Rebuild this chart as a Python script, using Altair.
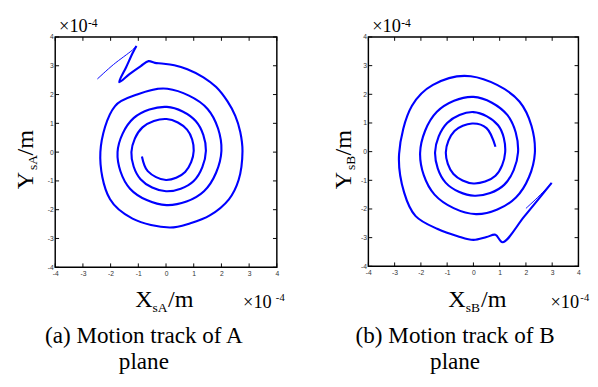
import altair as alt
import pandas as pd

# ---- data (units of 1e-4 m) ----
ax_thick = [-0.87,-0.66,0.0,0.69,1.0,0.76,0.02,-0.85,-1.25,-0.92,0.0,1.0,1.44,1.07,0.03,-1.17,-1.75,-1.3,0.02,1.37,2.0,1.5,0.05,-1.1,-1.84,-2.37,-2.02,-1.21,0.13,0.88,1.58,2.27,2.62,2.76,2.68,2.50,2.22,1.81,1.35,0.77,0.30,-0.16,-0.40,-0.63,-0.91,-1.32,-1.69,-1.44,-1.20,-1.07]
ay_thick = [-0.15,-0.66,-0.97,-0.69,0.05,0.78,1.15,0.86,0.0,-0.94,-1.36,-1.0,0.05,1.08,1.57,1.18,0.0,-1.27,-1.84,-1.36,0.05,1.5,2.2,1.98,1.6,0.0,-1.64,-2.31,-2.62,-2.47,-2.2,-1.64,-0.97,0.03,0.70,1.26,1.76,2.26,2.60,2.88,3.02,3.08,3.10,3.16,2.99,2.71,2.43,2.95,3.45,3.69]
ax_thin = [-1.07,-1.21,-1.90,-2.48]
ay_thin = [3.69,3.55,3.04,2.54]

bx_thick = [0.84,0.5,-0.05,-0.72,-1.05,-0.76,0.0,0.84,1.21,0.94,0.0,-1.0,-1.46,-1.06,0.04,1.17,1.70,1.29,0.0,-1.39,-2.03,-1.48,0.1,1.62,2.34,1.76,-0.1,-1.54,-2.34,-2.83,-2.64,-2.2,-1.36,-0.6,0.0,0.5,0.84,1.11,1.94,2.98]
by_thick = [0.17,0.82,0.98,0.72,-0.02,-0.78,-1.11,-0.84,-0.02,0.92,1.38,1.0,-0.02,-1.08,-1.54,-1.16,-0.02,1.28,1.91,1.39,-0.05,-1.5,-2.18,-1.6,-0.05,1.74,2.63,2.33,1.6,-0.08,-1.42,-2.25,-2.7,-2.95,-3.08,-2.98,-2.9,-3.16,-2.26,-1.09]
bx_thin = [2.98,2.5,2.0]
by_thin = [-1.09,-1.55,-1.98]

tick_vals = [-4,-3,-2,-1,0,1,2,3,4]

BLUE = "#0000ff"
SERIF = "Liberation Serif"
SANS = "Liberation Sans"


def panel(xs, ys, xt, yt, W, H, sub, cap1, cap2, ybx, bx10, bsup, capx):
    sc = alt.Scale(domain=[-4, 4], nice=False, zero=False)
    common = dict(values=tick_vals, ticks=False, domain=False, grid=False, title=None,
                  labelFont=SANS, labelFontSize=7, labelColor="#333", labelOverlap=False,
                  labelFlush=False, labelExpr="'' + datum.value")
    xax = alt.Axis(labelPadding=3, **common)
    yax = alt.Axis(labelPadding=2, **common)
    d1 = pd.DataFrame({"x": xs, "y": ys, "i": range(len(xs))})
    d2 = pd.DataFrame({"x": xt, "y": yt, "i": range(len(xt))})
    thick = alt.Chart(d1).mark_line(color=BLUE, strokeWidth=2.2, interpolate="catmull-rom").encode(
        x=alt.X("x:Q", scale=sc, axis=xax), y=alt.Y("y:Q", scale=sc, axis=yax), order="i:Q")
    thin = alt.Chart(d2).mark_line(color=BLUE, strokeWidth=1.0, interpolate="catmull-rom").encode(
        x=alt.X("x:Q", scale=sc, axis=xax), y=alt.Y("y:Q", scale=sc, axis=yax), order="i:Q")
    td = pd.DataFrame({"t": tick_vals})
    tb = alt.Chart(td).mark_rule(color="#000", strokeWidth=1).encode(
        x=alt.X("t:Q", scale=sc, axis=xax), y=alt.value(H), y2=alt.value(H - 4))
    tt = alt.Chart(td).mark_rule(color="#000", strokeWidth=1).encode(
        x=alt.X("t:Q", scale=sc, axis=xax), y=alt.value(0), y2=alt.value(4))
    tl = alt.Chart(td).mark_rule(color="#000", strokeWidth=1).encode(
        y=alt.Y("t:Q", scale=sc, axis=yax), x=alt.value(0), x2=alt.value(4))
    tr = alt.Chart(td).mark_rule(color="#000", strokeWidth=1).encode(
        y=alt.Y("t:Q", scale=sc, axis=yax), x=alt.value(W), x2=alt.value(W - 4))

    def txt(s, x, y, size, align="left", angle=0):
        kw = dict(text=s, font=SERIF, fontSize=size, align=align, baseline="alphabetic", color="#000")
        if angle:
            kw["angle"] = angle
        return alt.Chart(pd.DataFrame({"a": [0]})).mark_text(**kw).encode(x=alt.value(x), y=alt.value(y))

    texts = [
        txt("×10", 4, -5, 19), txt("-4", 34, -10, 12),
        txt("×10", bx10, 281, 19), txt("-4", bsup, 274, 11),
        txt("X", 83, 280, 25), txt(sub, 101, 285, 14), txt("/m", 117, 280, 25),
        txt("Y", ybx, 158, 25, angle=270), txt(sub, ybx + 4, 138, 14, angle=270), txt("/m", ybx, 123, 25, angle=270),
        txt(cap1, capx, 318, 24, align="center"), txt(cap2, capx, 345, 24, align="center"),
    ]
    return alt.layer(thick, thin, tb, tt, tl, tr, *texts).properties(width=W, height=H)


A = panel(ax_thick, ay_thick, ax_thin, ay_thin, 230, 239, "sA", "(a) Motion track of A", "plane", -23, 195, 229, 92)
B = panel(bx_thick, by_thick, bx_thin, by_thin, 218, 238, "sB", "(b) Motion track of B", "plane", -18, 189, 220, 90)

chart = alt.hconcat(A, B, spacing=47).configure_view(stroke="#000", strokeWidth=1.5).properties(
    padding={"left": 5, "top": 2, "right": 0, "bottom": 0})
chart.save("out.html", embed_options={"renderer": "svg", "actions": False})
